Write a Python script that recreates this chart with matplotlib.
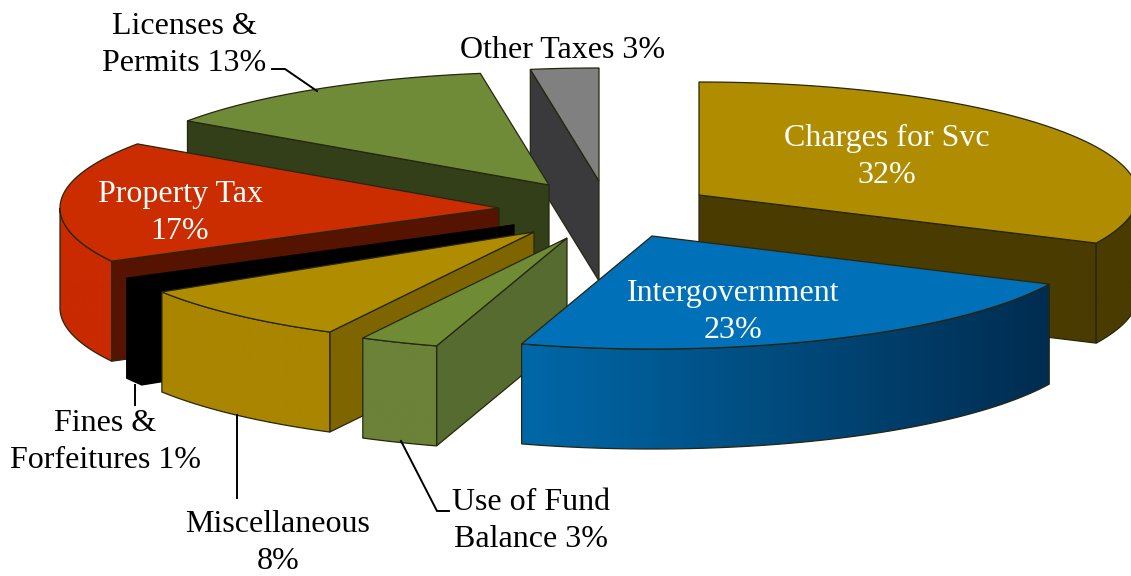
import numpy as np
import matplotlib
matplotlib.use("Agg")
import matplotlib.pyplot as plt
from matplotlib.patches import Polygon
from matplotlib.colors import LinearSegmentedColormap

# Chart data, clockwise from 12 o'clock (shares)
names = ["Charges for Svc", "Intergovernment", "Use of Fund Balance", "Miscellaneous",
         "Fines & Forfeitures", "Property Tax", "Licenses & Permits", "Other Taxes"]
values = [32.0, 22.8, 2.9, 8.4, 1.1, 17.4, 12.9, 2.5]

# Labels
label_texts = ["Charges for Svc\n32%", "Intergovernment\n23%", "Use of Fund\nBalance 3%", "Miscellaneous\n8%",
               "Fines &\nForfeitures 1%", "Property Tax\n17%", "Licenses &\nPermits 13%", "Other Taxes 3%"]
label_pos = [(887, 157), (733, 312), (531, 521), (278, 543), (105, 442), (180, 213), (184, 45), (563, 51)]
label_colors = ["white", "white", "black", "black", "black", "white", "black", "black"]

# Leader lines
leaders = [[(401, 441), (437, 511), (449, 511)], [(237, 415), (237, 498)],
           [(135, 385), (135, 405)], [(272, 69), (285, 69), (317, 91)]]

# Exploded slice tips in pixels
apex_x = [699, 652, 567, 534, 514, 499, 549, 599]
apex_y = [195, 236, 238, 232, 225, 208, 185, 181]

# Colours
top_colors = ["#b08d00", "#0070b8", "#6f8c35", "#b08d00", "#000000", "#cb2c00", "#708b38", "#808080"]
cut_colors = ["#4a3c00", "#002c50", "#556b2f", "#7f6500", "#000000", "#551300", "#333f18", "#3a3a3c"]
wall_left = ["#4a3c00", "#0068a8", "#6b8238", "#a98500", "#000000", "#c92a00", "#708b38", "#808080"]
wall_right = ["#4a3c00", "#002c50", "#6b8238", "#a98500", "#000000", "#c92a00", "#708b38", "#808080"]

rx, ry, depth = 439, 113, 100
edge = "#26260f"
draw_order = [7, 6, 0, 5, 4, 3, 2, 1]

fig = plt.figure(figsize=(11.31, 5.76), dpi=100)
ax = fig.add_axes([0, 0, 1, 1])

edges = np.concatenate([[0], np.cumsum(values)]) / np.sum(values) * 2 * np.pi


def rim(cx, cy, t0, t1):
    t = np.linspace(t0, t1, 100)
    return np.column_stack([cx + rx * np.sin(t), cy - ry * np.cos(t)])


z = 1
for i in draw_order:
    cx, cy = apex_x[i], apex_y[i]
    t0, t1 = edges[i], edges[i + 1]
    arc = rim(cx, cy, t0, t1)
    drop = np.array([0, depth])
    ec = "black" if top_colors[i] == "#000000" else edge

    # radial cut faces the viewer can see
    for t, show in ((t0, np.sin(t0) < -1e-6), (t1, np.sin(t1) > 1e-6)):
        if show:
            r = rim(cx, cy, t, t)[0]
            a = np.array([cx, cy])
            ax.add_patch(Polygon([a, r, r + drop, a + drop], fc=cut_colors[i], ec=ec, lw=0.9, zorder=z))
            z += 1

    # outer wall on the front half of the ellipse
    lo, hi = max(t0, np.pi / 2), min(t1, 3 * np.pi / 2)
    if hi > lo:
        w = rim(cx, cy, lo, hi)
        wall = np.vstack([w, (w + drop)[::-1]])
        x0, x1 = wall[:, 0].min(), wall[:, 0].max()
        cmap = LinearSegmentedColormap.from_list("w", [wall_left[i], wall_right[i]])
        im = ax.imshow(np.linspace(0, 1, 256)[None, :], cmap=cmap, aspect="auto", zorder=z,
                       extent=[x0, x1, wall[:, 1].max(), wall[:, 1].min()])
        p = Polygon(wall, fc="none", ec=ec, lw=0.9, zorder=z + 1)
        ax.add_patch(p)
        im.set_clip_path(p)
        z += 2

    # top face
    ax.add_patch(Polygon(np.vstack([[cx, cy], arc]), fc=top_colors[i], ec=ec, lw=0.9, zorder=z))
    z += 1

for pts in leaders:
    xs, ys = zip(*pts)
    ax.plot(xs, ys, color="black", lw=1.4, zorder=z, solid_joinstyle="miter")

for text, (x, y), c in zip(label_texts, label_pos, label_colors):
    ax.text(x, y, text, color=c, ha="center", va="center", fontsize=23, linespacing=1.33,
            family="Liberation Serif", zorder=z + 1)

ax.set_xlim(0, 1131)
ax.set_ylim(576, 0)
ax.axis("off")
fig.savefig("out.png", dpi=100)
